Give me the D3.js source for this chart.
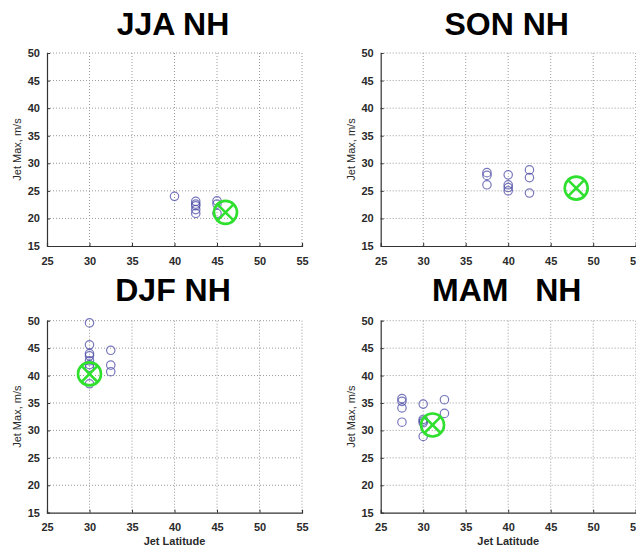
<!DOCTYPE html>
<html>
<head>
<meta charset="utf-8">
<script src="https://cdn.jsdelivr.net/npm/d3@7/dist/d3.min.js"></script>
<style>
  html, body { margin: 0; padding: 0; background: #fff; }
  svg { display: block; }
  text { font-family: "Liberation Sans", Arial, Helvetica, sans-serif; }
</style>
</head>
<body>
<svg id="chart" width="636" height="548"></svg>
<script>
// ---- Data ----
const xTicks = [25, 30, 35, 40, 45, 50, 55];
const yTicks = [15, 20, 25, 30, 35, 40, 45, 50];
const panelTitles = ["JJA NH", "SON NH", "DJF NH", "MAM   NH"];

// JJA NH model points
const jjaLat = [40, 42.5, 42.5, 42.5, 42.5, 42.5, 45, 45, 45];
const jjaMax = [24.0, 23.1, 22.6, 22.3, 21.6, 20.9, 23.2, 22.6, 20.9];
const jjaObs = [46.0, 21.1];

// SON NH model points
const sonLat = [37.5, 37.5, 37.5, 40, 40, 40, 40, 42.5, 42.5, 42.5];
const sonMax = [28.3, 27.8, 26.1, 27.9, 26.1, 25.6, 25.0, 28.8, 27.4, 24.6];
const sonObs = [48.0, 25.5];

// DJF NH model points
const djfLat = [30, 30, 30, 30, 30, 30, 30, 30, 32.5, 32.5, 32.5];
const djfMax = [49.6, 45.6, 44.0, 43.6, 42.7, 42.0, 41.5, 38.5, 44.6, 41.9, 40.7];
const djfObs = [30.0, 40.3];

// MAM NH model points
const mamLat = [27.5, 27.5, 27.5, 27.5, 30, 30, 30, 30, 30, 32.5, 32.5];
const mamMax = [35.8, 35.3, 34.1, 31.5, 34.8, 32.0, 31.7, 31.4, 28.9, 35.6, 33.1];
const mamObs = [31.1, 31.0];

const panelData = [
  {lat: jjaLat, max: jjaMax, obs: jjaObs},
  {lat: sonLat, max: sonMax, obs: sonObs},
  {lat: djfLat, max: djfMax, obs: djfObs},
  {lat: mamLat, max: mamMax, obs: mamObs}
];

// ---- Layout ----
const layout = [
  {x0: 47,    y0: 53,    w: 255, h: 193, xlabel: false},
  {x0: 380.7, y0: 53,    w: 255, h: 193, xlabel: false},
  {x0: 47,    y0: 320.7, w: 255, h: 192, xlabel: true},
  {x0: 380.7, y0: 320.7, w: 255, h: 192, xlabel: true}
];

const svg = d3.select("#chart");

layout.forEach((L, i) => {
  const d = panelData[i];
  const g = svg.append("g").attr("transform", `translate(${L.x0},${L.y0})`);
  const x = d3.scaleLinear().domain([25, 55]).range([0, L.w]);
  const y = d3.scaleLinear().domain([15, 50]).range([L.h, 0]);

  // dotted grid
  g.append("g").selectAll("line.gx").data(xTicks.slice(1)).join("line")
    .attr("x1", v => x(v)).attr("x2", v => x(v))
    .attr("y1", 0).attr("y2", L.h)
    .attr("stroke", "#9a9a9a").attr("stroke-width", 1)
    .attr("stroke-dasharray", "1,2");
  g.append("g").selectAll("line.gy").data(yTicks.slice(1)).join("line")
    .attr("x1", 0).attr("x2", L.w)
    .attr("y1", v => y(v)).attr("y2", v => y(v))
    .attr("stroke", "#9a9a9a").attr("stroke-width", 1)
    .attr("stroke-dasharray", "1,2");

  // axes
  const xAxis = d3.axisBottom(x).tickValues(xTicks).tickSize(-3).tickPadding(11)
    .tickFormat(d3.format("d"));
  const gx = g.append("g").attr("transform", `translate(0,${L.h})`).call(xAxis);
  const yAxis = d3.axisLeft(y).tickValues(yTicks).tickSize(-3).tickPadding(7)
    .tickFormat(d3.format("d"));
  const gy = g.append("g").call(yAxis);
  [gx, gy].forEach(a => {
    a.select(".domain").attr("stroke", "#333").attr("stroke-width", 1.2);
    a.selectAll(".tick line").attr("stroke", "#333");
    a.selectAll(".tick text").attr("fill", "#2a2a2a")
      .style("font-size", "11px").style("font-weight", "bold");
  });
  gy.selectAll(".tick").filter(v => v === 50).select("line").remove();
  gx.selectAll(".tick").filter(v => v === 55).select("line").remove();
  gx.selectAll(".tick").filter(v => v === 25).select("line").remove();
  gy.selectAll(".tick").filter(v => v === 15).select("line").remove();

  // y label
  g.append("text")
    .attr("transform", `translate(-26,${L.h / 2}) rotate(-90)`)
    .attr("text-anchor", "middle")
    .attr("fill", "#2a2a2a")
    .style("font-size", "11px")
    .text("Jet Max, m/s");

  // x label
  if (L.xlabel) {
    g.append("text")
      .attr("x", L.w / 2).attr("y", L.h + 32)
      .attr("text-anchor", "middle")
      .attr("fill", "#2a2a2a")
      .style("font-size", "11px").style("font-weight", "bold")
      .text("Jet Latitude");
  }

  // title
  g.append("text")
    .attr("x", L.w / 2 - 1.5).attr("y", i < 2 ? -18 : -19.5)
    .attr("text-anchor", "middle")
    .attr("fill", "#000")
    .style("font-size", "32px").style("font-weight", "bold")
    .style("white-space", "pre")
    .attr("xml:space", "preserve")
    .text(panelTitles[i]);

  // model points
  const pts = d.lat.map((v, k) => [v, d.max[k]]);
  g.append("g").selectAll("circle").data(pts).join("circle")
    .attr("cx", p => x(p[0])).attr("cy", p => y(p[1]))
    .attr("r", 4.2)
    .attr("fill", "none")
    .attr("stroke", "#4a4aa6").attr("stroke-opacity", 0.75)
    .attr("stroke-width", 1.2);

  // observed marker: circle with X
  const ox = x(d.obs[0]), oy = y(d.obs[1]);
  const og = g.append("g").attr("stroke", "#2fe02f").attr("stroke-width", 2.6).attr("fill", "none");
  og.append("circle").attr("cx", ox).attr("cy", oy).attr("r", 11.5);
  const k = 7.8;
  og.append("line").attr("x1", ox - k).attr("y1", oy - k).attr("x2", ox + k).attr("y2", oy + k);
  og.append("line").attr("x1", ox - k).attr("y1", oy + k).attr("x2", ox + k).attr("y2", oy - k);
});
</script>
</body>
</html>
